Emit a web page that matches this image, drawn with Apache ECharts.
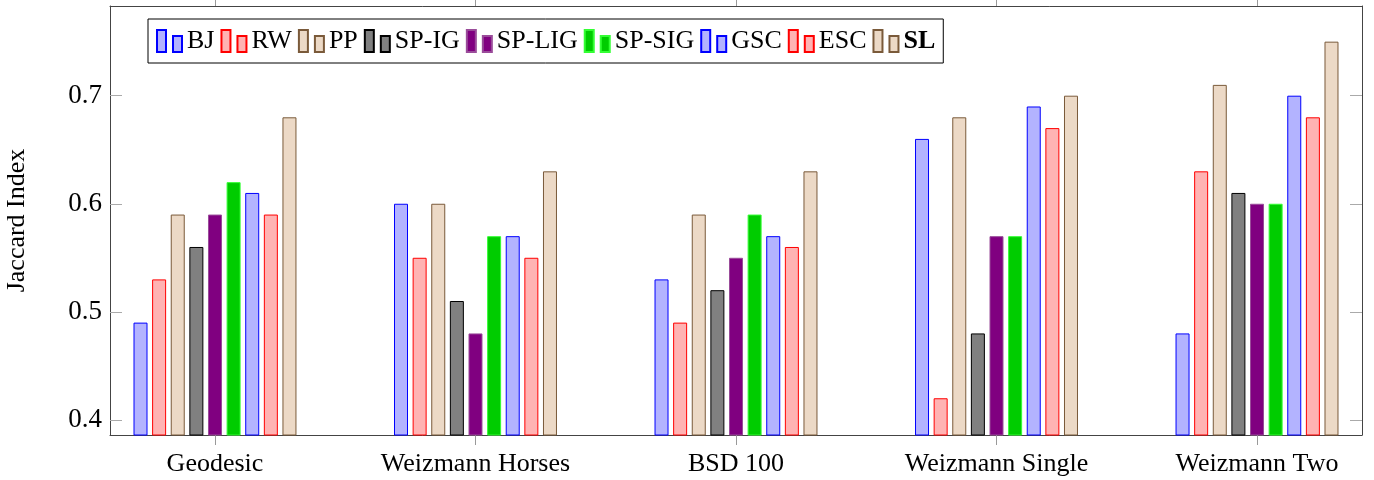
<!DOCTYPE html>
<html>
<head>
<meta charset="utf-8">
<script src="https://cdn.jsdelivr.net/npm/echarts@6/dist/echarts.min.js"></script>
<style>html,body{margin:0;padding:0;background:#fff}#c{width:1374px;height:480px}</style>
</head>
<body>
<div id="c"></div>
<script>
const categories = ['Geodesic', 'Weizmann Horses', 'BSD 100', 'Weizmann Single', 'Weizmann Two'];
const seriesNames = ['BJ', 'RW', 'PP', 'SP-IG', 'SP-LIG', 'SP-SIG', 'GSC', 'ESC', 'SL'];
const BJ     = [0.49, 0.60, 0.53, 0.66, 0.48];
const RW     = [0.53, 0.55, 0.49, 0.42, 0.63];
const PP     = [0.59, 0.60, 0.59, 0.68, 0.71];
const SP_IG  = [0.56, 0.51, 0.52, 0.48, 0.61];
const SP_LIG = [0.59, 0.48, 0.55, 0.57, 0.60];
const SP_SIG = [0.62, 0.57, 0.59, 0.57, 0.60];
const GSC    = [0.61, 0.57, 0.57, 0.69, 0.70];
const ESC    = [0.59, 0.55, 0.56, 0.67, 0.68];
const SL     = [0.68, 0.63, 0.63, 0.70, 0.75];
const yTicks = [0.4, 0.5, 0.6, 0.7];

const values = [BJ, RW, PP, SP_IG, SP_LIG, SP_SIG, GSC, ESC, SL];
const fills   = ['#b3b3ff', '#ffb3b3', '#ecd9c6', '#808080', '#800080', '#00cc00', '#b3b3ff', '#ffb3b3', '#ecd9c6'];
const borders = ['#0000ff', '#ff0000', '#7a5a3a', '#000000', '#9a4c9a', '#33ff33', '#0000ff', '#ff0000', '#7a5a3a'];

const FONT = 'Liberation Serif';
const catIdx = categories.map((c, i) => i);
const icon = 'path://M0,0 L9,0 L9,22 L0,22 Z M16,6 L25,6 L25,22 L16,22 Z';

const chart = echarts.init(document.getElementById('c'), null, {renderer: 'canvas'});
const xBase = {
  type: 'value', min: -0.403, max: 4.403,
  splitLine: {show: false},
  axisLine: {show: true, onZero: false, lineStyle: {color: '#444', width: 1}},
};
const yBase = {
  type: 'value', min: 0.386, max: 0.783,
  splitLine: {show: false},
  axisLine: {show: true, onZero: false, lineStyle: {color: '#444', width: 1}},
  axisTick: {show: true, inside: true, length: 12, customValues: yTicks, lineStyle: {color: '#aaa'}},
};
chart.setOption({
  animation: false,
  textStyle: {fontFamily: FONT},
  grid: {left: 110, right: 12, top: 6, bottom: 45, containLabel: false, outerBoundsMode: 'none'},
  legend: {
    left: 148, top: 19,
    orient: 'horizontal',
    data: seriesNames,
    icon: icon,
    itemWidth: 25, itemHeight: 22, itemGap: 6,
    padding: [8, 8, 8, 8],
    borderColor: '#000', borderWidth: 1,
    textStyle: {fontFamily: FONT, fontSize: 26, color: '#000', lineHeight: 28,
      rich: {b: {fontFamily: FONT, fontSize: 26, fontWeight: 'bold', color: '#000', lineHeight: 28}}},
    formatter: n => n === 'SL' ? '{b|SL}' : n,
  },
  xAxis: [
    Object.assign({}, xBase, {
      position: 'bottom',
      axisTick: {show: true, inside: false, length: 10, customValues: catIdx, lineStyle: {color: '#999'}},
      axisLabel: {show: true, customValues: catIdx, margin: 16, fontFamily: FONT, fontSize: 26, color: '#000',
        formatter: v => categories[Math.round(v)]},
    }),
    Object.assign({}, xBase, {
      position: 'top',
      axisTick: {show: true, inside: false, length: 8, customValues: catIdx, lineStyle: {color: '#999'}},
      axisLabel: {show: false},
    }),
  ],
  yAxis: [
    Object.assign({}, yBase, {
      position: 'left',
      name: 'Jaccard Index', nameLocation: 'middle', nameRotate: 90, nameGap: 80,
      nameTextStyle: {fontFamily: FONT, fontSize: 26, color: '#000'},
      axisLabel: {show: true, customValues: yTicks, margin: 8, fontFamily: FONT, fontSize: 27, color: '#000',
        formatter: v => v.toFixed(1)},
    }),
    Object.assign({}, yBase, {
      position: 'right',
      axisLabel: {show: false},
    }),
  ],
  series: seriesNames.map((name, k) => ({
    name: name,
    type: 'bar',
    xAxisIndex: 0, yAxisIndex: 0,
    barWidth: 14,
    barGap: '33%',
    itemStyle: {color: fills[k], borderColor: borders[k], borderWidth: 1},
    data: values[k].map((v, i) => [i, v]),
  })),
});
</script>
</body>
</html>
